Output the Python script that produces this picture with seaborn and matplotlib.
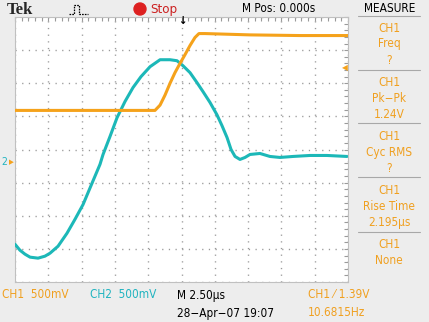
import matplotlib
matplotlib.use("Agg")
import matplotlib.pyplot as plt
from matplotlib.lines import Line2D
from matplotlib.patches import Ellipse
from matplotlib.ticker import MultipleLocator, NullFormatter
import numpy as np
import pandas as pd
import seaborn as sns

# ---------------- data (read from the screen) ----------------
# time in microseconds, relative to trigger (M Pos 0.000s)
ch1_time = [-12.50, -9.12, -6.12, -1.99, -1.61, -1.24, -0.86, -0.49, -0.11,
            0.26, 0.64, 1.01, 1.31, 1.76, 5.14, 8.90, 12.50]
ch1_volts = [0.74, 0.74, 0.74, 0.74, 0.82, 0.97, 1.15, 1.31, 1.45,
             1.58, 1.72, 1.84, 1.90, 1.90, 1.88, 1.87, 1.87]

ch2_time = [-12.50, -12.13, -11.75, -11.37, -10.77, -10.25, -9.87, -9.27, -8.60,
            -8.00, -7.39, -6.72, -6.12, -5.89, -5.37, -4.84, -4.24, -3.64,
            -3.04, -2.36, -1.61, -0.86, -0.34, 0.11, 0.64, 1.16, 1.61, 2.14,
            2.66, 3.04, 3.42, 3.72, 4.02, 4.39, 4.77, 5.14, 5.89, 6.64, 7.39,
            8.37, 9.65, 10.92, 12.42]
ch2_volts = [-1.25, -1.34, -1.40, -1.445, -1.46, -1.43, -1.385, -1.28, -1.085,
             -0.875, -0.65, -0.33, -0.045, 0.105, 0.375, 0.66, 0.905, 1.115,
             1.28, 1.43, 1.535, 1.535, 1.52, 1.445, 1.34, 1.19, 1.055, 0.89,
             0.705, 0.54, 0.36, 0.18, 0.075, 0.03, 0.06, 0.105, 0.12, 0.075,
             0.06, 0.075, 0.09, 0.09, 0.075]

ch_scale_v = 0.5          # 500 mV / div both channels
time_per_div = 2.5        # 2.50 us / div
ch1_ground_div = -0.30    # ground marker positions in divisions
ch2_ground_div = -0.36
trigger_level = 1.39

measure_titles = ["CH1", "CH1", "CH1", "CH1", "CH1"]
measure_names = ["Freq", "Pk\u2212Pk", "Cyc RMS", "Rise Time", "None"]
measure_values = ["?", "1.24V", "?", "2.195\u00b5s", ""]

# ---------------- style ----------------
W, H = 429, 322
sns.set_style("white")
plt.rcParams["font.family"] = ["DejaVu Sans"]
plt.rcParams["lines.scale_dashes"] = False

ORANGE = "#f5a21b"
CYAN = "#1cb8b8"
GRID = "#9a9a9a"
BG = "#ededed"
TXT_OR = "#f0a020"
TXT_CY = "#20b4c0"

fig = plt.figure(figsize=(W / 100, H / 100), dpi=100)
fig.patch.set_facecolor(BG)

L, R, T, B = 15, 348, 17, 282
ax = fig.add_axes([L / W, 1 - B / H, (R - L) / W, (B - T) / H])
ax.set_facecolor("white")

df1 = pd.DataFrame({"t": ch1_time, "div": np.array(ch1_volts) / ch_scale_v + ch1_ground_div})
df2 = pd.DataFrame({"t": ch2_time, "div": np.array(ch2_volts) / ch_scale_v + ch2_ground_div})
sns.lineplot(data=df2, x="t", y="div", color=CYAN, linewidth=2.2, ax=ax, sort=False, zorder=3)
sns.lineplot(data=df1, x="t", y="div", color=ORANGE, linewidth=2.2, ax=ax, sort=False, zorder=4)

ax.set_xlim(-5 * time_per_div, 5 * time_per_div)
ax.set_ylim(-4, 4)
ax.set_xlabel("")
ax.set_ylabel("")
ax.xaxis.set_major_locator(MultipleLocator(time_per_div))
ax.yaxis.set_major_locator(MultipleLocator(1))
ax.xaxis.set_minor_locator(MultipleLocator(time_per_div / 5))
ax.yaxis.set_minor_locator(MultipleLocator(0.2))
ax.xaxis.set_major_formatter(NullFormatter())
ax.yaxis.set_major_formatter(NullFormatter())
ax.tick_params(which="both", direction="in", top=True, right=True,
               color=GRID, length=3, width=0.8)
ax.grid(True, which="major", color=GRID, linewidth=1.0,
        linestyle=(0, (0.9, 3.9)))
for s in ax.spines.values():
    s.set_color("#c0c0c0")
    s.set_linewidth(0.8)
ax.set_axisbelow(True)

# centre-line tick marks (graticule)
ax2 = fig.add_axes(ax.get_position(), facecolor="none")
ax2.set_xlim(ax.get_xlim())
ax2.set_ylim(ax.get_ylim())
ax2.spines["left"].set_position(("data", 0))
ax2.spines["bottom"].set_position(("data", 0))
ax2.spines["top"].set_visible(False)
ax2.spines["right"].set_visible(False)
ax2.spines["left"].set_color("none")
ax2.spines["bottom"].set_color("none")
ax2.xaxis.set_major_locator(MultipleLocator(time_per_div / 5))
ax2.yaxis.set_major_locator(MultipleLocator(0.2))
ax2.xaxis.set_major_formatter(NullFormatter())
ax2.yaxis.set_major_formatter(NullFormatter())
ax2.tick_params(which="both", direction="inout", length=4, color=GRID, width=0.8)
ax2.set_zorder(0.5)

# ---------------- text helpers ----------------
def txt(x, y, s, color="black", size=8.5, ha="left", **kw):
    fig.text(x / W, 1 - y / H, s, color=color, fontsize=size, ha=ha,
             va="center", fontstretch="condensed", **kw)

# header
fig.text(7 / W, 1 - 10 / H, "Tek", fontsize=12, fontweight="bold",
         family="Liberation Serif", va="center", ha="left")
icon_x = [69, 72, 73, 74, 74, 79, 79, 80, 83, 88]
icon_y = [14, 14, 14, 14, 5, 5, 14, 14, 14, 14]
fig.add_artist(Line2D([x / W for x in icon_x], [1 - y / H for y in icon_y],
                      color="black", linewidth=0.9, linestyle=(0, (1.2, 0.8)),
                      transform=fig.transFigure))
fig.add_artist(Ellipse((140 / W, 1 - 9 / H), 12 / W, 12 / H,
                       transform=fig.transFigure, color="#dd2020"))
txt(150, 9, "Stop", color="#cc2020", size=9.5)
txt(279, 8, "M Pos: 0.000s", ha="center", size=8.5)
txt(390, 8, "MEASURE", ha="center", size=8.5)

# trigger markers
txt(182, 21, "\u2193", ha="center", size=8, fontweight="bold")
txt(345, 68, "\u25c0", color=ORANGE, ha="center", size=6)
txt(4, 162, "2", color=TXT_CY, ha="center", size=7.5)
txt(11, 162, "\u25b6", color=ORANGE, ha="center", size=5)

# measure panel
sep_y = [16, 70, 123, 177, 232]
for y in sep_y:
    fig.add_artist(Line2D([358 / W, 420 / W], [1 - y / H, 1 - y / H],
                          color="#a8a8a8", linewidth=0.8,
                          transform=fig.transFigure))
for i, (a, b, c) in enumerate(zip(measure_titles, measure_names, measure_values)):
    y0 = 28 + i * 54.2
    txt(389, y0, a, color=TXT_OR, ha="center")
    txt(389, y0 + 16, b, color=TXT_OR, ha="center")
    if c:
        txt(389, y0 + 32, c, color=TXT_OR, ha="center")

# footer
txt(2, 295, "CH1  500mV", color=TXT_OR)
txt(90, 295, "CH2  500mV", color=TXT_CY)
txt(177, 295, "M 2.50\u00b5s")
txt(177, 313, "28\u2212Apr\u221207 19:07")
txt(308, 295, "CH1 \u2044 %.2fV" % trigger_level, color=TXT_OR)
txt(308, 313, "10.6815Hz", color=TXT_OR)

fig.savefig("out.png", dpi=100, facecolor=BG)
